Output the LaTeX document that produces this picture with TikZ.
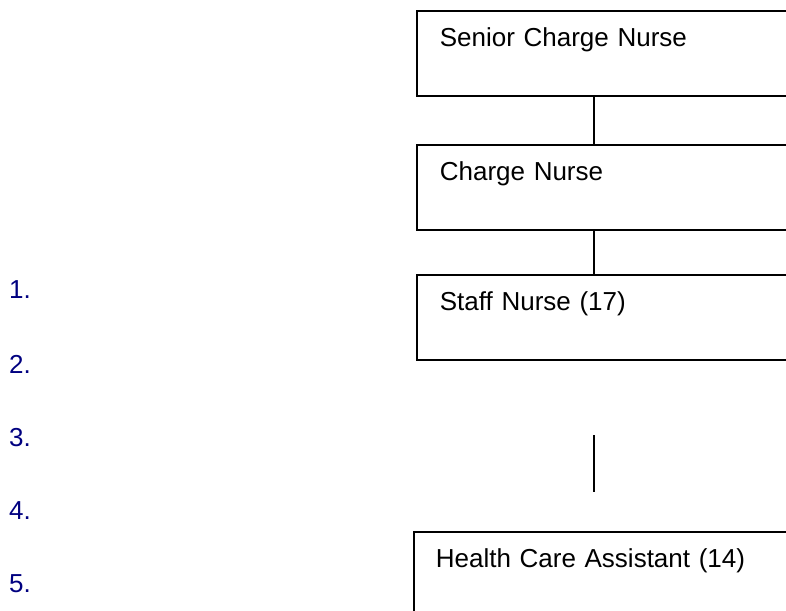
\documentclass[tikz,border=0pt]{standalone}
\usepackage{fontspec}
\setmainfont{Liberation Sans}
\definecolor{numblue}{HTML}{000080}
\begin{document}
\begin{tikzpicture}[x=1pt,y=-1pt,
  rolebox/.style={draw, line width=1.7pt, anchor=north west, inner xsep=23pt, inner ysep=0pt,
    text height=36pt, text depth=49pt, text width=380pt, align=left,
    font=\fontsize{26}{31}\selectfont},
  conn/.style={line width=1.7pt},
  numlab/.style={anchor=base west, inner sep=0pt, text=numblue, font=\fontsize{26}{31}\selectfont}]
\useasboundingbox (0,0) rectangle (786,610);
\clip (0,0) rectangle (786,610);
\node[rolebox] (b1) at (416,10) {Senior Charge Nurse};
\node[rolebox] (b2) at (416,144) {Charge Nurse};
\node[rolebox] (b3) at (416,274) {Staff Nurse (17)};
\node[rolebox, inner xsep=22pt] (b4) at (413,531) {Health Care Assistant (14)};
\coordinate (cx) at (594,0);
\draw[conn] (b1.south -| cx) -- (b2.north -| cx);
\draw[conn] (b2.south -| cx) -- (b3.north -| cx);
\coordinate (g1) at (594,435);
\coordinate (g2) at (594,492);
\draw[conn] (g1) -- (g2);
\node[numlab] (n1) at (9,298) {1.};
\node[numlab] (n2) at (9,373) {2.};
\node[numlab] (n3) at (9,446) {3.};
\node[numlab] (n4) at (9,519) {4.};
\node[numlab] (n5) at (9,592) {5.};
\end{tikzpicture}
\end{document}
